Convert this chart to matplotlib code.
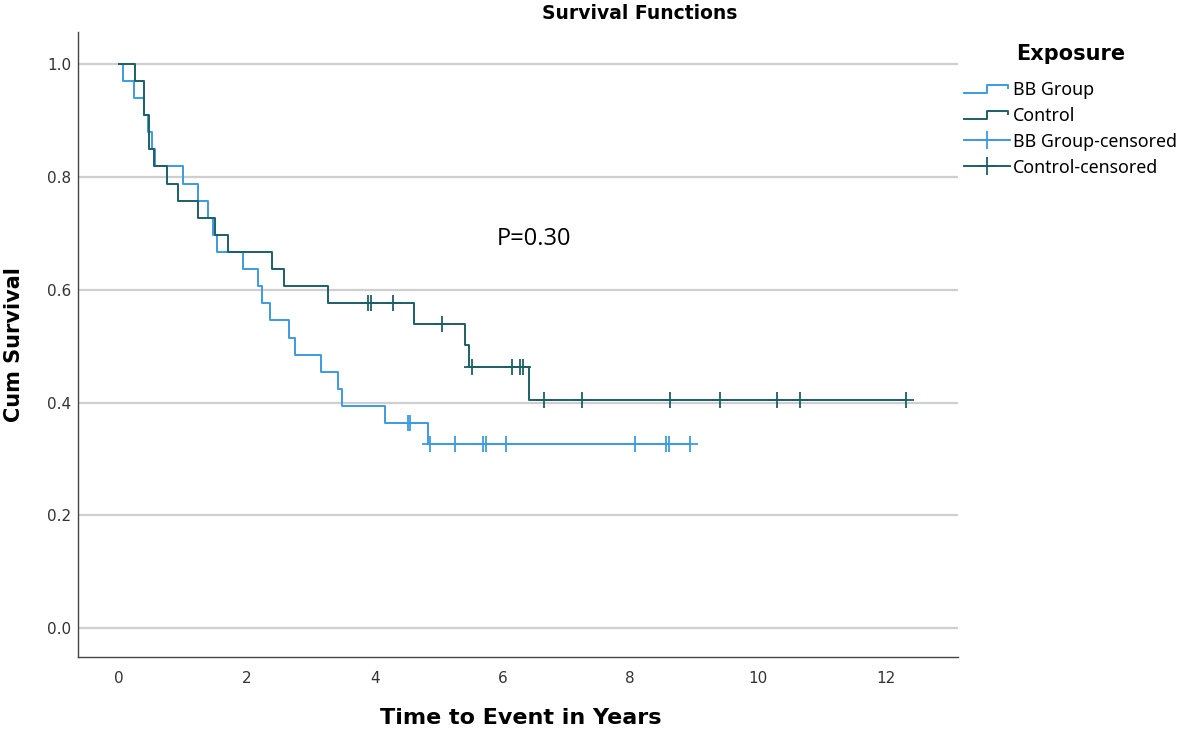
import numpy as np
import matplotlib
matplotlib.use('Agg')
import matplotlib.pyplot as plt
from matplotlib.lines import Line2D
from matplotlib.legend_handler import HandlerBase

# Survival data (years)
bb_event_times = [0.06, 0.24, 0.40, 0.45, 0.52, 0.57, 1.00, 1.23, 1.40, 1.47, 1.53,
                  1.94, 2.17, 2.24, 2.36, 2.66, 2.76, 3.16, 3.42, 3.49, 4.16, 4.84]
bb_censor_times = [4.52, 4.56, 4.87, 5.26, 5.70, 5.74, 6.05, 8.08, 8.56, 8.60, 8.94]

ctrl_event_times = [0.25, 0.40, 0.40, 0.47, 0.47, 0.55, 0.75, 0.93, 1.23, 1.51, 1.71,
                    2.39, 2.59, 3.27, 4.61, 5.41, 5.47, 6.42]
ctrl_censor_times = [3.90, 3.95, 4.29, 5.05, 5.53, 6.15, 6.28, 6.32, 6.65, 7.24,
                     8.62, 9.40, 10.29, 10.66, 12.32]

group_names = ['BB Group', 'Control']
x_ticks = [0, 2, 4, 6, 8, 10, 12]
y_ticks = [0.0, 0.2, 0.4, 0.6, 0.8, 1.0]
p_text = 'P=0.30'

BB_COLOR = '#3d9be0'
CTRL_COLOR = '#1d5f68'


def kaplan_meier(events, censored):
    times = np.array(list(events) + list(censored), dtype=float)
    flags = np.array([1] * len(events) + [0] * len(censored))
    order = np.lexsort((-flags, times))
    times, flags = times[order], flags[order]
    at_risk = len(times)
    surv = 1.0
    xs, ys = [0.0], [1.0]
    cx, cy = [], []
    i = 0
    while i < len(times):
        t = times[i]
        d = np.sum((times == t) & (flags == 1))
        c = np.sum((times == t) & (flags == 0))
        if d > 0:
            xs.append(t)
            ys.append(surv)
            surv *= (at_risk - d) / at_risk
            xs.append(t)
            ys.append(surv)
        if c > 0:
            cx += [t] * int(c)
            cy += [surv] * int(c)
        at_risk -= d + c
        i += d + c
    xs.append(times.max())
    ys.append(surv)
    return xs, ys, cx, cy


class StepHandler(HandlerBase):
    def __init__(self, color):
        super().__init__()
        self.color = color

    def create_artists(self, legend, orig_handle, xdescent, ydescent, width, height,
                       fontsize, trans):
        x = np.array([0, 0.5, 0.5, 0.95, 0.95]) * width - xdescent
        y = np.array([0.1, 0.1, 0.8, 0.8, 0.5]) * height - ydescent
        ln = Line2D(x, y, color=self.color, lw=1.4, transform=trans)
        return [ln]


fig = plt.figure(figsize=(12, 7.31), dpi=100)
ax = fig.add_axes([0.065, 0.101, 0.733, 0.855])

for yt in y_ticks:
    ax.axhline(yt, color='#cfcfcf', lw=1.6, zorder=0)

bx, by, bcx, bcy = kaplan_meier(bb_event_times, bb_censor_times)
cx_, cy_, ccx, ccy = kaplan_meier(ctrl_event_times, ctrl_censor_times)

ax.plot(bx, by, color=BB_COLOR, lw=1.4, zorder=3)
ax.plot(cx_, cy_, color=CTRL_COLOR, lw=1.4, zorder=3)
ax.plot(bcx, bcy, ls='none', marker='+', ms=11, mew=1.3, color=BB_COLOR, zorder=4)
ax.plot(ccx, ccy, ls='none', marker='+', ms=11, mew=1.3, color=CTRL_COLOR, zorder=4)

ax.set_xlim(-0.64, 13.12)
ax.set_ylim(-0.051, 1.056)
ax.set_xticks(x_ticks)
ax.set_xticklabels([str(v) for v in x_ticks])
ax.set_yticks(y_ticks)
ax.set_yticklabels(['%.1f' % v for v in y_ticks])
ax.tick_params(length=0, labelsize=11, colors='#333333')
ax.tick_params(axis='x', pad=10)
ax.tick_params(axis='y', pad=5)
for side in ['top', 'right']:
    ax.spines[side].set_visible(False)
for side in ['left', 'bottom']:
    ax.spines[side].set_color('#444444')
    ax.spines[side].set_linewidth(1.0)

ax.text(6.49, 0.689, p_text, fontsize=17, ha='center', va='center',
        family=['Open Sans', 'DejaVu Sans'])

fig.text(0.533, 0.982, 'Survival Functions', fontsize=13.5, fontweight='bold',
         ha='center', va='center')
fig.text(0.434, 0.018, 'Time to Event in Years', fontsize=16, fontweight='bold',
         ha='center', va='center')
fig.text(0.012, 0.528, 'Cum Survival', fontsize=15, fontweight='bold', rotation=90,
         ha='center', va='center')

h_bb = Line2D([], [], color=BB_COLOR)
h_ctrl = Line2D([], [], color=CTRL_COLOR)
h_bbc = Line2D([], [], color=BB_COLOR, lw=1.4, marker='+', ms=13, mew=1.3)
h_ctc = Line2D([], [], color=CTRL_COLOR, lw=1.4, marker='+', ms=13, mew=1.3)
leg = fig.legend([h_bb, h_ctrl, h_bbc, h_ctc],
                 [group_names[0], group_names[1], group_names[0] + '-censored',
                  group_names[1] + '-censored'],
                 handler_map={h_bb: StepHandler(BB_COLOR), h_ctrl: StepHandler(CTRL_COLOR)},
                 loc='upper left', bbox_to_anchor=(0.793, 0.957), frameon=False,
                 title='Exposure', handlelength=2.6, handletextpad=0.15,
                 labelspacing=0.45, borderpad=0.2,
                 prop={'family': ['Noto Sans', 'DejaVu Sans'], 'size': 12.8})
leg.get_title().set_fontweight('bold')
leg.get_title().set_fontsize(15)
leg._legend_box.align = 'center'
leg._legend_box.sep = 12

fig.savefig('out.png', dpi=100)
